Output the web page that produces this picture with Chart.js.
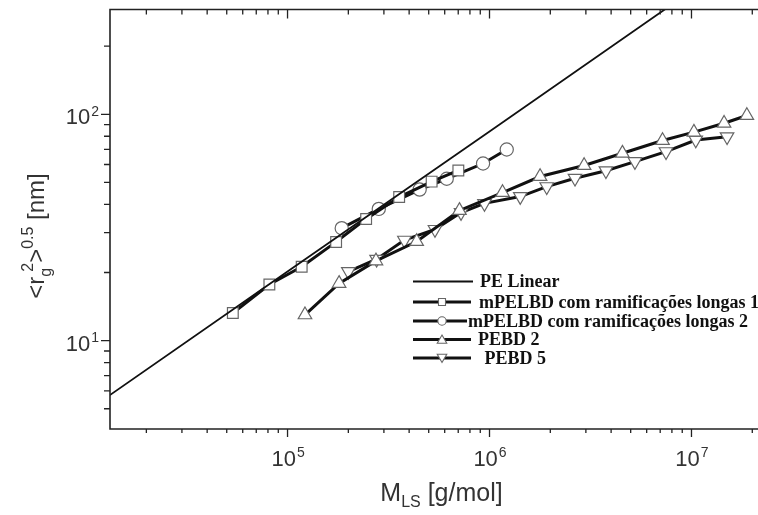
<!DOCTYPE html>
<html><head><meta charset="utf-8">
<script src="https://cdn.jsdelivr.net/npm/chart.js@4/dist/chart.umd.min.js"></script>
<style>
html,body{margin:0;padding:0;background:#fff;overflow:hidden;width:758px;height:515px}
#wrap{position:absolute;left:0;top:0;width:780px;height:515px}
</style>
</head><body><div id="wrap"><canvas id="c" width="780" height="515"></canvas></div>
<script>
// ---- data ----
const seriesLabels = ['PE Linear', 'mPELBD com ramificações longas 1', 'mPELBD com ramificações longas 2', 'PEBD 2', ' PEBD 5'];

const peLinearM = [13200, 100000, 1000000, 10000000];
const peLinearR = [5.75, 20.2, 84, 351];

const mpelbd1M = [53600, 81300, 117500, 174000, 245000, 357000, 517000, 701000];
const mpelbd1R = [13.25, 17.7, 21.2, 27.3, 34.5, 43.1, 50.4, 56.5];

const mpelbd2M = [185500, 283000, 451000, 614000, 929000, 1217000];
const mpelbd2R = [31.4, 38.2, 46.5, 51.9, 60.6, 69.9];

const pebd2M = [122000, 180000, 274000, 436000, 710000, 1160000, 1780000, 2940000, 4550000, 7190000, 10280000, 14500000, 18800000];
const pebd2R = [13.0, 17.9, 22.5, 27.4, 37.6, 45.1, 53.1, 59.4, 67.3, 76.6, 83.4, 91.3, 98.8];

const pebd5M = [200000, 276000, 379000, 537000, 723000, 944000, 1420000, 1920000, 2650000, 3770000, 5250000, 7480000, 10500000, 15000000];
const pebd5R = [20.2, 22.9, 27.8, 31.0, 36.8, 40.4, 43.3, 47.9, 52.2, 56.3, 61.8, 68.4, 77.0, 79.6];

const xTickLabels = ['10^5', '10^6', '10^7'];
const yTickLabels = ['10^1', '10^2'];
const xTitle = ['M', 'LS', ' [g/mol]'];
const yTitle = ['<r', 'g', '2', '>', '0.5', ' [nm]'];

// axis ranges
const X_MIN = 13213, X_MAX = 2.312e7;
const Y_MIN = 4.07, Y_MAX = 290.4;

const pts = (xs, ys) => xs.map((v, i) => ({x: v, y: ys[i]}));
const SANS = '"Liberation Sans", Arial, Helvetica, sans-serif';
const SERIF = '"Liberation Serif", "Times New Roman", serif';

function parseLbl(s){ const p = s.split('^'); return {base: p[0], exp: p[1]}; }

function drawMarker(ctx, style, x, y, r, rot){
  ctx.beginPath();
  if (style === 'rect') { ctx.rect(x - r, y - r, 2*r, 2*r); }
  else if (style === 'circle') { ctx.arc(x, y, r, 0, Math.PI*2); }
  else {
    const s = rot ? -1 : 1;
    ctx.moveTo(x, y - s*r);
    ctx.lineTo(x + r*0.866, y + s*r*0.5);
    ctx.lineTo(x - r*0.866, y + s*r*0.5);
    ctx.closePath();
  }
  ctx.fillStyle = '#fff'; ctx.fill();
  ctx.strokeStyle = '#666'; ctx.lineWidth = 1.1; ctx.stroke();
}

const decorPlugin = {
  id: 'decor',
  afterDraw(chart){
    const {ctx, chartArea: a, scales: {x, y}} = chart;
    ctx.save();
    // frame
    ctx.strokeStyle = '#222'; ctx.lineWidth = 1.6;
    ctx.beginPath();
    ctx.moveTo(a.right, a.top); ctx.lineTo(a.left, a.top); ctx.lineTo(a.left, a.bottom); ctx.lineTo(a.right, a.bottom);
    ctx.stroke();
    // ticks
    ctx.lineWidth = 1.3;
    ctx.beginPath();
    for (let e = 4; e <= 7; e++) for (let k = 1; k <= 9; k++) {
      const v = k * Math.pow(10, e);
      if (v < x.min || v > x.max) continue;
      const px = x.getPixelForValue(v);
      const major = k === 1;
      ctx.moveTo(px, a.bottom); ctx.lineTo(px, a.bottom + (major ? 8 : 4));
      ctx.moveTo(px, a.top); ctx.lineTo(px, a.top + (major ? 9 : 5));
    }
    for (let e = 0; e <= 2; e++) for (let k = 1; k <= 9; k++) {
      const v = k * Math.pow(10, e);
      if (v < y.min || v > y.max) continue;
      const py = y.getPixelForValue(v);
      const major = k === 1;
      ctx.moveTo(a.left - (major ? 9 : 6), py); ctx.lineTo(a.left, py);
    }
    ctx.stroke();

    // tick labels
    ctx.fillStyle = '#333';
    ctx.textBaseline = 'alphabetic';
    const FT = '22px ' + SANS, FE = '14px ' + SANS;
    xTickLabels.forEach(s => {
      const {base, exp} = parseLbl(s);
      const v = Math.pow(10, +exp);
      const px = x.getPixelForValue(v);
      ctx.font = FT; const wb = ctx.measureText(base).width;
      ctx.font = FE; const we = ctx.measureText(exp).width;
      const x0 = px - (wb + we) / 2;
      ctx.font = FT; ctx.textAlign = 'left'; ctx.fillText(base, x0, a.bottom + 37);
      ctx.font = FE; ctx.fillText(exp, x0 + wb + 1, a.bottom + 28);
    });
    yTickLabels.forEach(s => {
      const {base, exp} = parseLbl(s);
      const v = Math.pow(10, +exp);
      const py = y.getPixelForValue(v);
      ctx.font = FT; const wb = ctx.measureText(base).width;
      ctx.font = FE; const we = ctx.measureText(exp).width;
      const xr = a.left - 11;
      ctx.textAlign = 'left';
      ctx.font = FT; ctx.fillText(base, xr - we - 1 - wb, py + 10);
      ctx.font = FE; ctx.fillText(exp, xr - we, py + 1.5);
    });

    // x title
    const FM = '25px ' + SANS, FS = '16px ' + SANS;
    ctx.font = FM; const w0 = ctx.measureText(xTitle[0]).width, w2 = ctx.measureText(xTitle[2]).width;
    ctx.font = FS; const w1 = ctx.measureText(xTitle[1]).width;
    const cx = (a.left + 765) / 2 + 4;
    let xs = cx - (w0 + w1 + w2) / 2;
    const by = 501;
    ctx.textAlign = 'left';
    ctx.font = FM; ctx.fillText(xTitle[0], xs, by); xs += w0;
    ctx.font = FS; ctx.fillText(xTitle[1], xs, by + 6); xs += w1;
    ctx.font = FM; ctx.fillText(xTitle[2], xs, by);

    // y title (rotated)
    const FMY = '24px ' + SANS;
    ctx.save();
    ctx.translate(44, 236);
    ctx.rotate(-Math.PI / 2);
    ctx.font = FMY; const t0 = ctx.measureText(yTitle[0]).width, t3 = ctx.measureText(yTitle[3]).width, t5 = ctx.measureText(yTitle[5]).width;
    ctx.font = FS; const t1 = ctx.measureText(yTitle[1]).width, t2 = ctx.measureText(yTitle[2]).width, t4 = ctx.measureText(yTitle[4]).width;
    const t12 = Math.max(t1 + 1, t2 + 5);
    const W = t0 + t12 + t3 + t4 + t5;
    let p = -W / 2;
    ctx.font = FMY; ctx.fillText(yTitle[0], p, 0); p += t0;
    ctx.font = FS; ctx.fillText(yTitle[1], p, 7); ctx.fillText(yTitle[2], p + 5, -11); p += t12;
    ctx.font = FMY; ctx.fillText(yTitle[3], p, 0); p += t3;
    ctx.font = FS; ctx.fillText(yTitle[4], p, -11); p += t4;
    ctx.font = FMY; ctx.fillText(yTitle[5], p, 0);
    ctx.restore();

    // legend
    const rowsY = [281.5, 302, 321, 339.5, 358];
    const textX = [480, 479, 468, 478, 480];
    const lineEnd = [473, 471, 467, 471, 471];
    const styles = [null, 'rect', 'circle', 'triangle', 'triangle'];
    const mr = [0, 3.5, 4.2, 5.5, 5.5];
    chart.data.datasets.forEach((ds, i) => {
      const ly = rowsY[i];
      ctx.strokeStyle = '#111';
      ctx.lineWidth = i === 0 ? 1.8 : 3;
      ctx.beginPath(); ctx.moveTo(413, ly); ctx.lineTo(lineEnd[i], ly); ctx.stroke();
      if (styles[i]) drawMarker(ctx, styles[i], 442, ly + (i === 3 ? 1 : (i === 4 ? -1 : 0)), mr[i], i === 4);
      ctx.fillStyle = '#111';
      ctx.font = 'bold 18px ' + SERIF;
      ctx.textAlign = 'left'; ctx.textBaseline = 'middle';
      ctx.fillText(ds.label, textX[i], ly + 1);
      ctx.textBaseline = 'alphabetic';
    });
    ctx.restore();
  }
};

const common = {borderColor: '#111', borderWidth: 3, pointBorderColor: '#666', pointBackgroundColor: '#fff', pointBorderWidth: 1.2, tension: 0, fill: false};

new Chart(document.getElementById('c'), {
  type: 'line',
  data: {
    datasets: [
      {label: seriesLabels[0], data: pts(peLinearM, peLinearR), borderColor: '#111', borderWidth: 1.8, pointRadius: 0, tension: 0, fill: false},
      Object.assign({label: seriesLabels[1], data: pts(mpelbd1M, mpelbd1R), pointStyle: 'rect', pointRadius: 7.6}, common),
      Object.assign({label: seriesLabels[2], data: pts(mpelbd2M, mpelbd2R), pointStyle: 'circle', pointRadius: 6.6}, common),
      Object.assign({label: seriesLabels[3], data: pts(pebd2M, pebd2R), pointStyle: 'triangle', pointRadius: 7.8}, common),
      Object.assign({label: seriesLabels[4], data: pts(pebd5M, pebd5R), pointStyle: 'triangle', pointRotation: 180, pointRadius: 7.8}, common)
    ]
  },
  options: {
    responsive: false, animation: false, devicePixelRatio: 1,
    layout: {padding: {left: 110, top: 9.5, right: 15, bottom: 86}},
    plugins: {legend: {display: false}, tooltip: {enabled: false}},
    scales: {
      x: {type: 'logarithmic', min: X_MIN, max: X_MAX, display: false},
      y: {type: 'logarithmic', min: Y_MIN, max: Y_MAX, display: false}
    }
  },
  plugins: [decorPlugin]
});
</script>
</body></html>
